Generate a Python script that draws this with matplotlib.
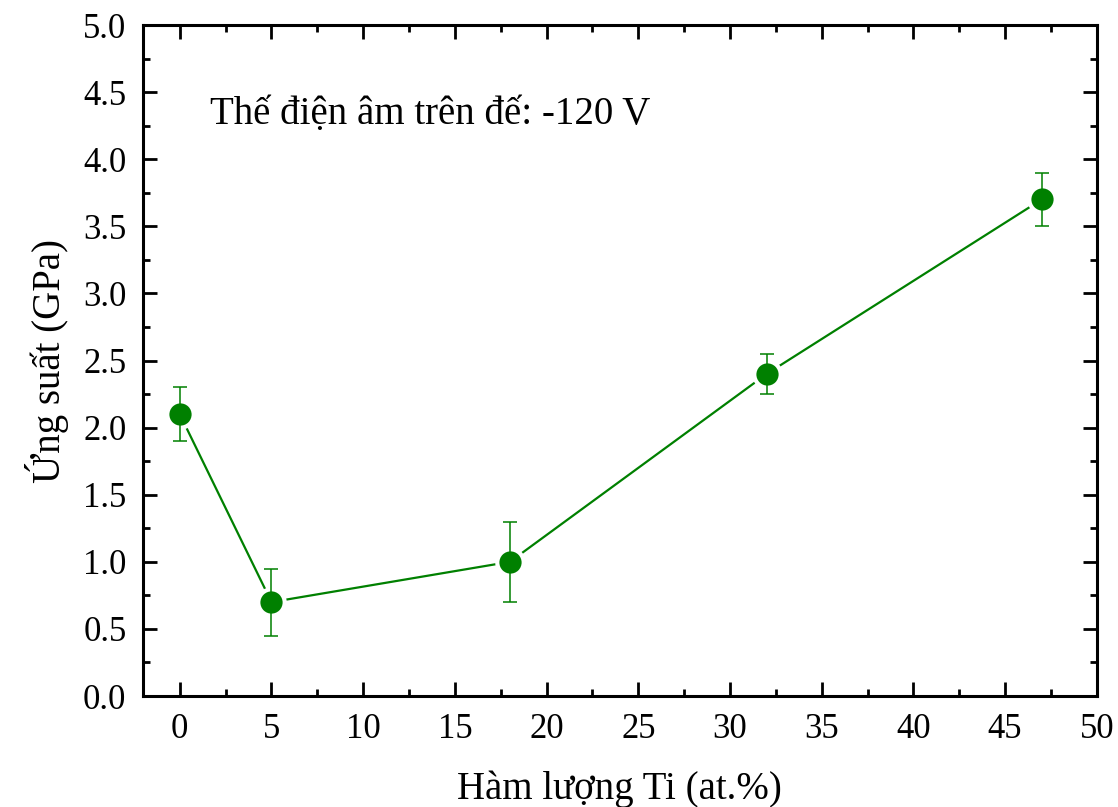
import numpy as np
import matplotlib.pyplot as plt
from matplotlib.ticker import MultipleLocator

# Dữ liệu
ti_content = [0, 5, 18, 32, 47]            # Hàm lượng Ti (at.%)
stress = [2.1, 0.7, 1.0, 2.4, 3.7]         # Ứng suất (GPa)
stress_err = [0.2, 0.25, 0.3, 0.15, 0.2]

green = '#008000'

plt.rcParams['font.family'] = ['Liberation Serif', 'DejaVu Serif']

fig = plt.figure(figsize=(11.18, 8.07), dpi=100)
ax = fig.add_axes([0.128, 0.1375, 0.853, 0.8315])

# đường nối, có khoảng hở quanh điểm
ax.plot(ti_content, stress, color=green, lw=1.6, zorder=2)
ax.plot(ti_content, stress, ls='none', marker='o', ms=16, mfc=green,
        mec='white', mew=6, zorder=3)
ax.errorbar(ti_content, stress, yerr=stress_err, fmt='none', ecolor=green,
            elinewidth=1.1, capsize=5, capthick=1.1, zorder=4)
ax.plot(ti_content, stress, ls='none', marker='o', ms=16, mfc=green,
        mec=green, mew=0, zorder=5)

ax.set_xlim(-2, 50)
ax.set_ylim(0, 5)
ax.xaxis.set_major_locator(MultipleLocator(5))
ax.xaxis.set_minor_locator(MultipleLocator(2.5))
ax.yaxis.set_major_locator(MultipleLocator(0.5))
ax.yaxis.set_minor_locator(MultipleLocator(0.25))
ax.yaxis.set_major_formatter(plt.FormatStrFormatter('%.1f'))

ax.tick_params(which='both', direction='in', top=True, right=True,
               width=2, labelsize=25)
ax.tick_params(which='major', length=10)
ax.tick_params(which='minor', length=5)
ax.tick_params(axis='x', pad=12)
ax.tick_params(axis='y', pad=12)
for s in ax.spines.values():
    s.set_linewidth(2.2)

ax.set_xlabel('Hàm lượng Ti (at.%)', fontsize=28, labelpad=18)
ax.set_ylabel('Ứng suất (GPa)', fontsize=28, labelpad=10)

ax.text(1.65, 4.33, 'Thế điện âm trên đế: -120 V', fontsize=28,
        va='center', ha='left')

plt.savefig('out.png', dpi=100)
